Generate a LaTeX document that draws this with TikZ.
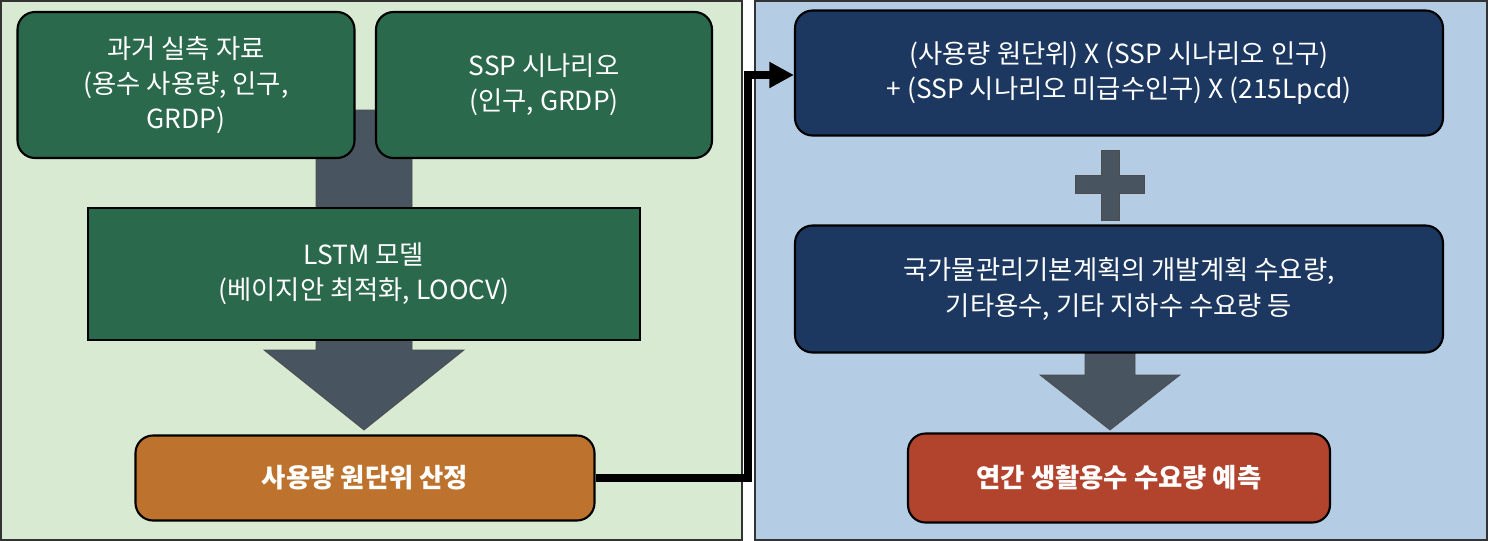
\documentclass[tikz,border=0pt]{standalone}
\usepackage{fontspec}
\setmainfont{Noto Sans CJK KR}
\usetikzlibrary{arrows.meta,positioning}
\definecolor{pgreen}{RGB}{217,234,211}
\definecolor{pblue}{RGB}{180,204,228}
\definecolor{bgreen}{RGB}{43,105,76}
\definecolor{bnavy}{RGB}{28,56,96}
\definecolor{borange}{RGB}{189,115,45}
\definecolor{bred}{RGB}{178,67,45}
\definecolor{agray}{RGB}{72,84,96}
\tikzstyle{panel} = [draw=black!80, line width=1.2pt]
\tikzstyle{stepbox} = [rectangle, rounded corners=10pt, draw=black, line width=1.2pt, text=white, align=center, font=\fontsize{15}{20}\selectfont, inner sep=0pt]
\tikzstyle{fatarrow} = [fill=agray, draw=black!70]
\begin{document}
\begin{tikzpicture}[x=0.02cm, y=-0.02cm]
\useasboundingbox (0,0) rectangle (1488,541);
% Panels
\draw[panel, fill=pgreen] (1,1) rectangle (742,540);
\draw[panel, fill=pblue] (755,1) rectangle (1487,540);

% Big arrows
\draw[fatarrow] (316,110) -- (412,110) -- (412,350) -- (464,350) -- (364,430) -- (264,350) -- (316,350) -- cycle;
\draw[fatarrow] (1085,345) -- (1135,345) -- (1135,375) -- (1180,375) -- (1110,430) -- (1040,375) -- (1085,375) -- cycle;
\draw[fatarrow] (1101,150) -- (1119,150) -- (1119,175) -- (1144,175) -- (1144,193) -- (1119,193) -- (1119,220) -- (1101,220) -- (1101,193) -- (1075,193) -- (1075,175) -- (1101,175) -- cycle;

% Left boxes
\node[stepbox, fill=bgreen, minimum width=337*0.02cm, minimum height=146*0.02cm] (hist) at (186,85) {과거 실측 자료\\(용수 사용량, 인구,\\GRDP)};
\node[stepbox, fill=bgreen, minimum width=336*0.02cm, minimum height=146*0.02cm] (ssp) at (544,85) {SSP 시나리오\\(인구, GRDP)};
\node[stepbox, fill=bgreen, rounded corners=0pt, minimum width=552*0.02cm, minimum height=132*0.02cm] (lstm) at (364,274) {LSTM 모델\\(베이지안 최적화, LOOCV)};
\node[stepbox, fill=borange, minimum width=459*0.02cm, minimum height=85*0.02cm, font=\fontsize{15}{20}\selectfont\bfseries] (unit) at (365,478) {사용량 원단위 산정};

% Right boxes
\node[stepbox, fill=bnavy, minimum width=648*0.02cm, minimum height=125*0.02cm] (calc) at (1119,73) {(사용량 원단위) X (SSP 시나리오 인구)\\+ (SSP 시나리오 미급수인구) X (215Lpcd)};
\node[stepbox, fill=bnavy, minimum width=648*0.02cm, minimum height=127*0.02cm] (plan) at (1119,289) {국가물관리기본계획의 개발계획 수요량,\\기타용수, 기타 지하수 수요량 등};
\node[stepbox, fill=bred, minimum width=422*0.02cm, minimum height=89*0.02cm, font=\fontsize{15}{20}\selectfont\bfseries] (pred) at (1119,478) {연간 생활용수 수요량 예측};

% Connector
\draw[line width=4pt, -{Triangle[length=14pt,width=14pt]}] (unit.east) -| (748,75) -- (calc.west |- 0,75);
\end{tikzpicture}
\end{document}
